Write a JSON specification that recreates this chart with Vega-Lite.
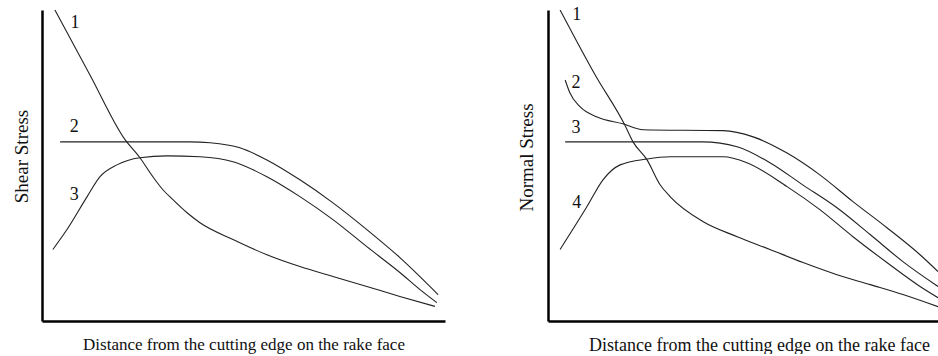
{
  "$schema": "https://vega.github.io/schema/vega-lite/v6.json",
  "background": "white",
  "padding": {"left": 12, "top": 5, "right": 0, "bottom": 0},
  "spacing": 72,
  "config": {
    "view": {"stroke": null},
    "axis": {
      "domainColor": "#000",
      "domainWidth": 2.5,
      "ticks": false,
      "labels": false,
      "grid": false,
      "titleFont": "Liberation Serif",
      "titleFontWeight": "normal",
      "titleColor": "#111"
    },
    "line": {"color": "#222", "strokeWidth": 1.1, "interpolate": "monotone"},
    "text": {"font": "Liberation Serif", "fontSize": 18, "color": "#111"}
  },
  "datasets": {
    "shear": [
      {"curve": "1", "x": 3.2, "y": 100},
      {"curve": "1", "x": 11.9, "y": 79.1},
      {"curve": "1", "x": 20.6, "y": 58.3},
      {"curve": "1", "x": 24.3, "y": 52.5},
      {"curve": "1", "x": 27.5, "y": 46.4},
      {"curve": "1", "x": 30.0, "y": 42.2},
      {"curve": "1", "x": 32.5, "y": 39.0},
      {"curve": "1", "x": 36.0, "y": 34.8},
      {"curve": "1", "x": 39.2, "y": 31.6},
      {"curve": "1", "x": 47.4, "y": 26.2},
      {"curve": "1", "x": 55.8, "y": 21.3},
      {"curve": "1", "x": 64.0, "y": 17.5},
      {"curve": "1", "x": 72.2, "y": 14.3},
      {"curve": "1", "x": 80.6, "y": 11.1},
      {"curve": "1", "x": 88.8, "y": 7.9},
      {"curve": "1", "x": 97.5, "y": 4.7},
      {"curve": "2", "x": 4.5, "y": 57.6},
      {"curve": "2", "x": 36.7, "y": 57.6},
      {"curve": "2", "x": 41.7, "y": 57.3},
      {"curve": "2", "x": 49.1, "y": 55.7},
      {"curve": "2", "x": 55.8, "y": 51.8},
      {"curve": "2", "x": 64.0, "y": 45.4},
      {"curve": "2", "x": 72.2, "y": 38.0},
      {"curve": "2", "x": 80.6, "y": 29.4},
      {"curve": "2", "x": 88.8, "y": 20.4},
      {"curve": "2", "x": 98.3, "y": 8.5},
      {"curve": "3", "x": 2.7, "y": 23.0},
      {"curve": "3", "x": 6.2, "y": 29.4},
      {"curve": "3", "x": 11.2, "y": 40.0},
      {"curve": "3", "x": 14.4, "y": 46.4},
      {"curve": "3", "x": 18.6, "y": 50.2},
      {"curve": "3", "x": 24.3, "y": 52.5},
      {"curve": "3", "x": 31.0, "y": 53.1},
      {"curve": "3", "x": 39.2, "y": 52.8},
      {"curve": "3", "x": 47.4, "y": 51.2},
      {"curve": "3", "x": 55.8, "y": 46.4},
      {"curve": "3", "x": 64.0, "y": 40.0},
      {"curve": "3", "x": 72.2, "y": 32.6},
      {"curve": "3", "x": 80.6, "y": 23.9},
      {"curve": "3", "x": 88.8, "y": 15.6},
      {"curve": "3", "x": 93.8, "y": 10.1},
      {"curve": "3", "x": 98.0, "y": 5.9}
    ],
    "shearLabels": [
      {"label": "1", "x": 8.2, "y": 95.8},
      {"label": "2", "x": 8.0, "y": 62.4},
      {"label": "3", "x": 8.0, "y": 40.6}
    ],
    "normal": [
      {"curve": "1", "x": 3.1, "y": 100},
      {"curve": "1", "x": 12.1, "y": 79.1},
      {"curve": "1", "x": 19.7, "y": 63.0},
      {"curve": "1", "x": 21.8, "y": 57.6},
      {"curve": "1", "x": 25.4, "y": 51.8},
      {"curve": "1", "x": 28.7, "y": 43.9},
      {"curve": "1", "x": 31.3, "y": 40.0},
      {"curve": "1", "x": 39.7, "y": 32.0},
      {"curve": "1", "x": 48.5, "y": 27.1},
      {"curve": "1", "x": 56.9, "y": 23.0},
      {"curve": "1", "x": 65.4, "y": 18.8},
      {"curve": "1", "x": 74.1, "y": 14.9},
      {"curve": "1", "x": 82.6, "y": 11.7},
      {"curve": "1", "x": 91.0, "y": 8.5},
      {"curve": "1", "x": 100, "y": 4.6},
      {"curve": "2", "x": 4.4, "y": 77.5},
      {"curve": "2", "x": 5.6, "y": 73.4},
      {"curve": "2", "x": 8.2, "y": 68.9},
      {"curve": "2", "x": 12.6, "y": 65.6},
      {"curve": "2", "x": 19.2, "y": 63.4},
      {"curve": "2", "x": 24.4, "y": 61.5},
      {"curve": "2", "x": 44.9, "y": 61.2},
      {"curve": "2", "x": 52.6, "y": 59.2},
      {"curve": "2", "x": 61.3, "y": 54.0},
      {"curve": "2", "x": 69.7, "y": 47.0},
      {"curve": "2", "x": 78.2, "y": 38.4},
      {"curve": "2", "x": 86.9, "y": 30.0},
      {"curve": "2", "x": 95.4, "y": 21.3},
      {"curve": "2", "x": 100, "y": 15.9},
      {"curve": "3", "x": 4.4, "y": 57.6},
      {"curve": "3", "x": 39.7, "y": 57.6},
      {"curve": "3", "x": 48.5, "y": 56.0},
      {"curve": "3", "x": 56.9, "y": 50.9},
      {"curve": "3", "x": 65.4, "y": 43.7},
      {"curve": "3", "x": 74.1, "y": 36.4},
      {"curve": "3", "x": 82.6, "y": 27.8},
      {"curve": "3", "x": 91.0, "y": 19.1},
      {"curve": "3", "x": 100, "y": 11.1},
      {"curve": "4", "x": 3.1, "y": 23.0},
      {"curve": "4", "x": 10.0, "y": 36.8},
      {"curve": "4", "x": 14.1, "y": 45.4},
      {"curve": "4", "x": 18.5, "y": 50.2},
      {"curve": "4", "x": 25.4, "y": 52.1},
      {"curve": "4", "x": 31.3, "y": 52.8},
      {"curve": "4", "x": 44.9, "y": 52.8},
      {"curve": "4", "x": 51.0, "y": 50.9},
      {"curve": "4", "x": 61.3, "y": 43.2},
      {"curve": "4", "x": 69.7, "y": 35.8},
      {"curve": "4", "x": 78.2, "y": 27.1},
      {"curve": "4", "x": 86.9, "y": 18.8},
      {"curve": "4", "x": 95.4, "y": 11.1},
      {"curve": "4", "x": 100, "y": 7.5}
    ],
    "normalLabels": [
      {"label": "1", "x": 7.4, "y": 98.4},
      {"label": "2", "x": 7.2, "y": 76.6},
      {"label": "3", "x": 7.2, "y": 62.1},
      {"label": "4", "x": 7.4, "y": 38.0}
    ]
  },
  "hconcat": [
    {
      "width": 403,
      "height": 311,
      "layer": [
        {
          "data": {"name": "shear"},
          "mark": "line",
          "encoding": {
            "x": {
              "field": "x", "type": "quantitative",
              "scale": {"domain": [0, 100], "nice": false, "zero": false},
              "axis": {"title": "Distance from the cutting edge on the rake face", "titleFontSize": 17, "titlePadding": 15}
            },
            "y": {
              "field": "y", "type": "quantitative",
              "scale": {"domain": [0, 100], "nice": false, "zero": false},
              "axis": {"title": "Shear Stress", "titleFontSize": 19, "titlePadding": 11, "titleY": 146}
            },
            "detail": {"field": "curve"}
          }
        },
        {
          "data": {"name": "shearLabels"},
          "mark": {"type": "text", "align": "center", "baseline": "middle"},
          "encoding": {
            "x": {"field": "x", "type": "quantitative"},
            "y": {"field": "y", "type": "quantitative"},
            "text": {"field": "label"}
          }
        }
      ]
    },
    {
      "width": 390,
      "height": 311,
      "layer": [
        {
          "data": {"name": "normal"},
          "mark": {"type": "line", "clip": true},
          "encoding": {
            "x": {
              "field": "x", "type": "quantitative",
              "scale": {"domain": [0, 100], "nice": false, "zero": false},
              "axis": {"title": "Distance from the cutting edge on the rake face", "titleFontSize": 18, "titlePadding": 15, "titleX": 211}
            },
            "y": {
              "field": "y", "type": "quantitative",
              "scale": {"domain": [0, 100], "nice": false, "zero": false},
              "axis": {"title": "Normal Stress", "titleFontSize": 19, "titlePadding": 12, "titleY": 147}
            },
            "detail": {"field": "curve"}
          }
        },
        {
          "data": {"name": "normalLabels"},
          "mark": {"type": "text", "align": "center", "baseline": "middle"},
          "encoding": {
            "x": {"field": "x", "type": "quantitative"},
            "y": {"field": "y", "type": "quantitative"},
            "text": {"field": "label"}
          }
        }
      ]
    }
  ]
}
